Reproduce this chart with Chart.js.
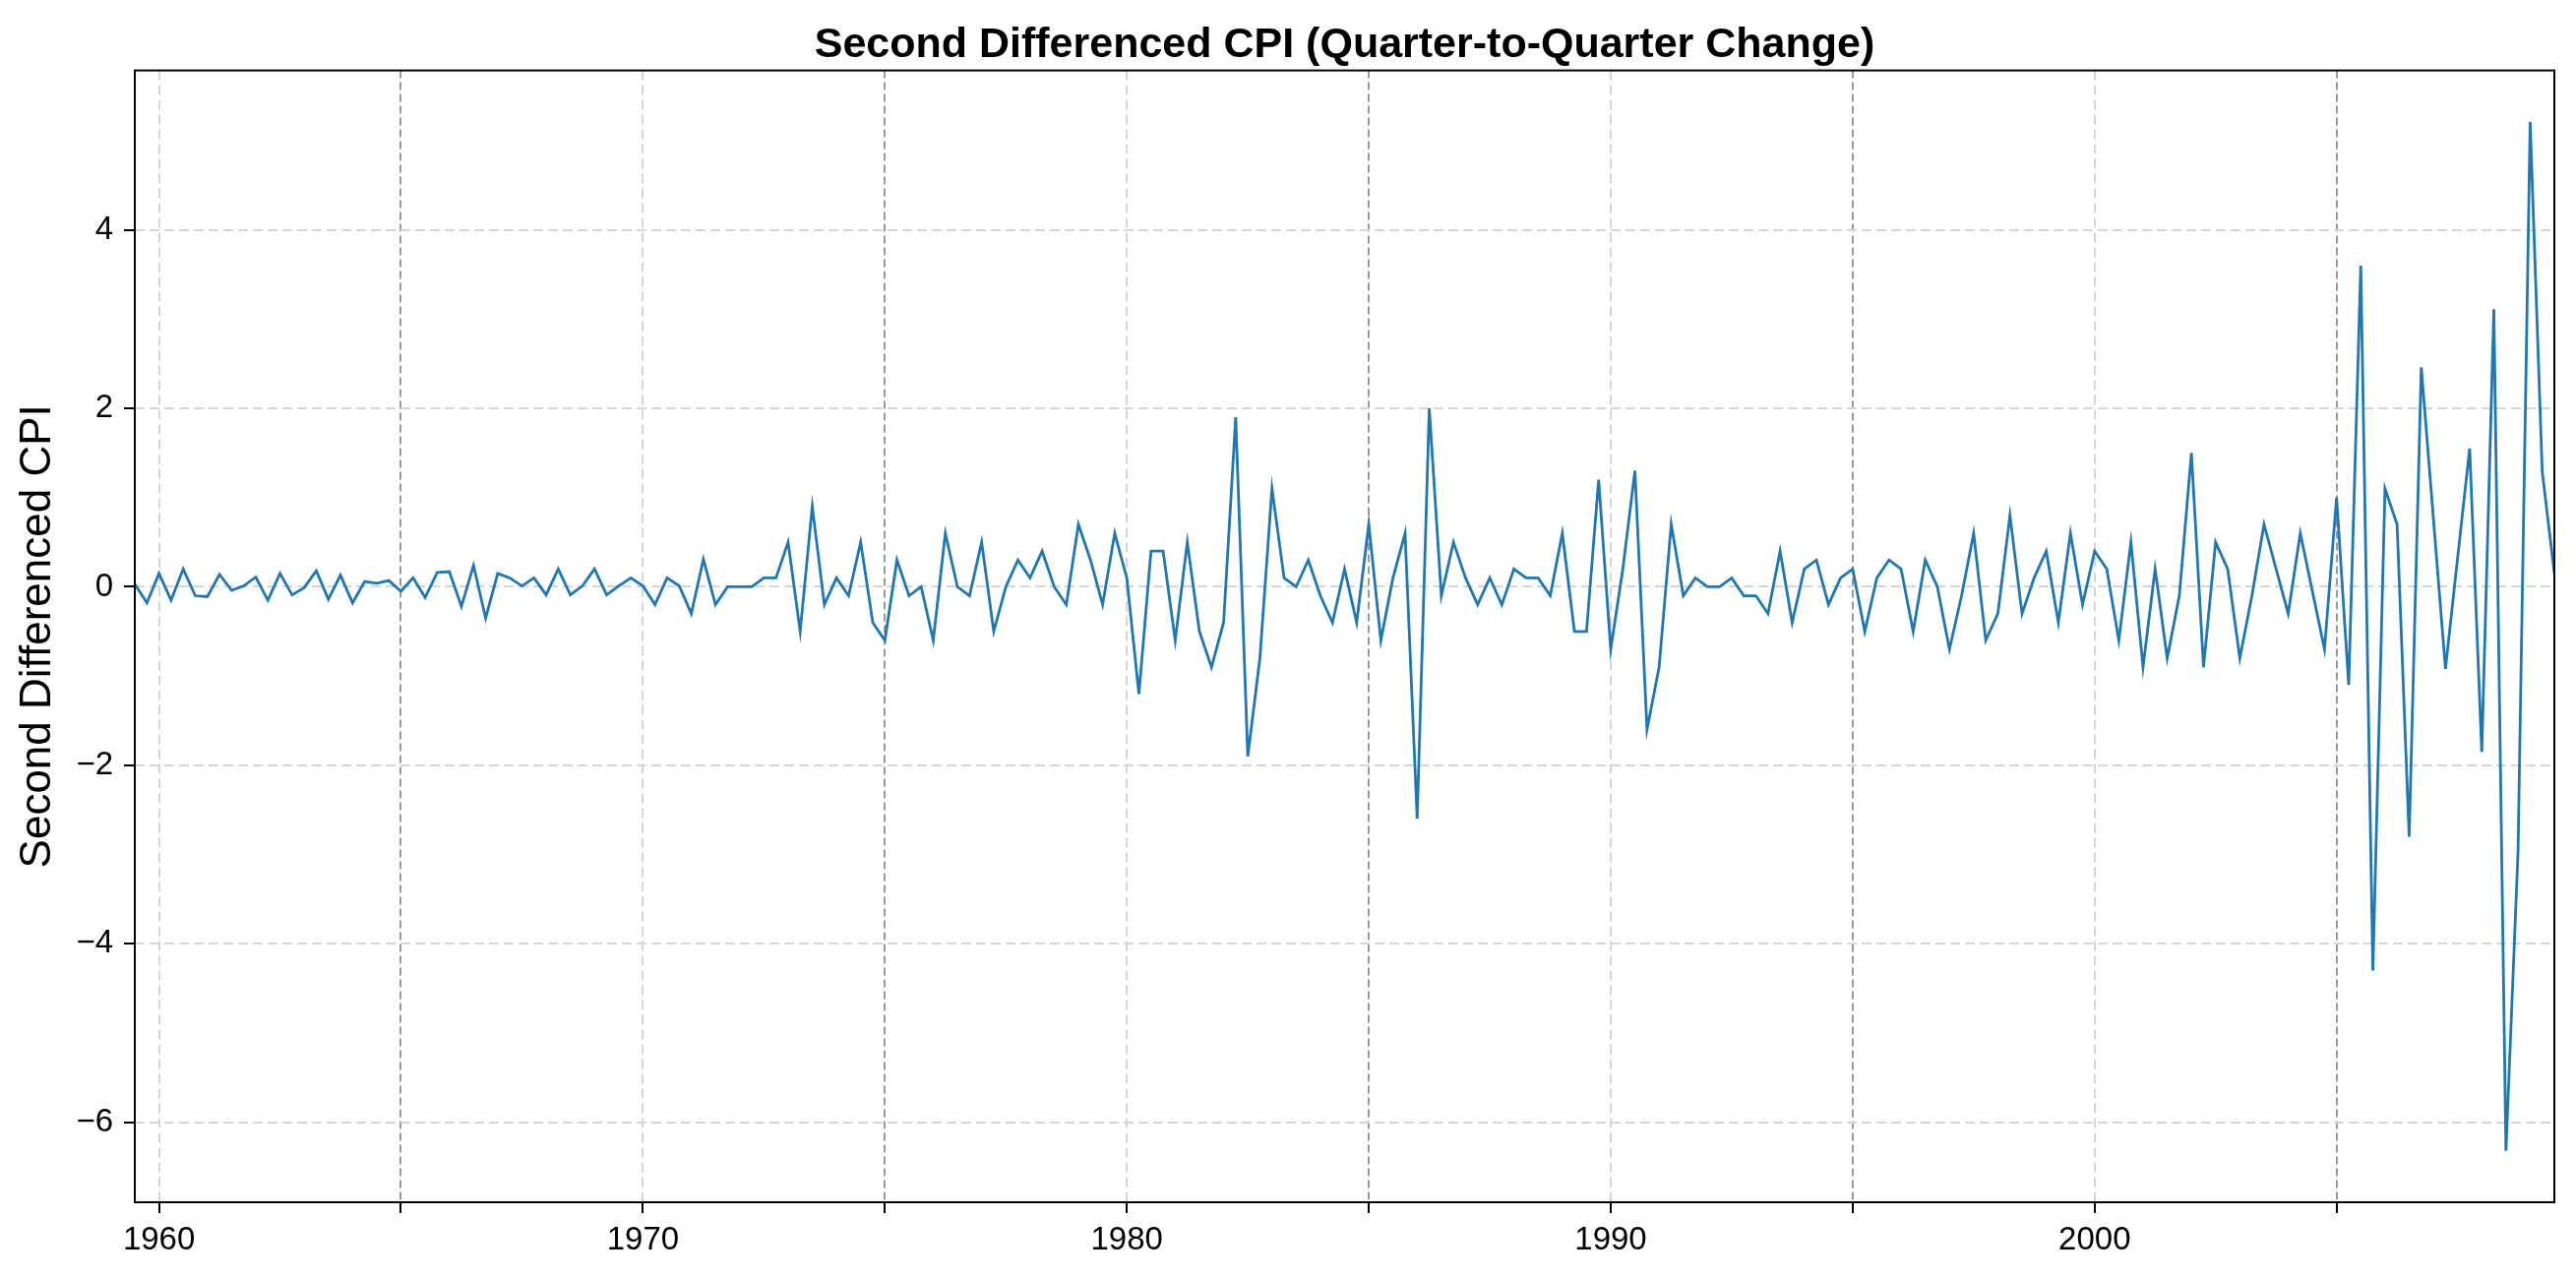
<!DOCTYPE html>
<html>
<head>
<meta charset="utf-8">
<script src="https://cdn.jsdelivr.net/npm/chart.js@4.4.1/dist/chart.umd.min.js"></script>
<style>
html,body{margin:0;padding:0;background:#fff;}
#c{display:block;}
</style>
</head>
<body>
<canvas id="c" width="2618" height="1300"></canvas>
<script>
// ---- data ----
const startYear = 1959;
const startQuarter = 3;
const cpiSecondDiff = [
  0.03, -0.18,                     // 1959 Q3-Q4
  0.15, -0.15, 0.20, -0.10,        // 1960
  -0.11, 0.14, -0.04, 0.01,        // 1961
  0.11, -0.15, 0.15, -0.09,        // 1962
  -0.01, 0.18, -0.14, 0.13,        // 1963
  -0.18, 0.06, 0.04, 0.07,         // 1964
  -0.05, 0.10, -0.12, 0.16,        // 1965
  0.17, -0.22, 0.24, -0.35,        // 1966
  0.15, 0.10, 0.01, 0.10,          // 1967
  -0.09, 0.20, -0.09, 0.01,        // 1968
  0.20, -0.09, 0.01, 0.10,         // 1969
  0.01, -0.20, 0.10, 0.01,         // 1970
  -0.30, 0.31, -0.20, 0.00,        // 1971
  0.00, 0.00, 0.10, 0.10,          // 1972
  0.50, -0.50, 0.90, -0.20,        // 1973
  0.10, -0.10, 0.50, -0.40,        // 1974
  -0.60, 0.30, -0.10, 0.00,        // 1975
  -0.60, 0.60, 0.00, -0.10,        // 1976
  0.50, -0.50, 0.00, 0.30,         // 1977
  0.10, 0.40, 0.00, -0.20,         // 1978
  0.70, 0.30, -0.20, 0.60,         // 1979
  0.10, -1.20, 0.40, 0.40,         // 1980
  -0.60, 0.50, -0.50, -0.90,       // 1981
  -0.40, 1.90, -1.90, -0.80,       // 1982
  1.10, 0.10, 0.00, 0.30,          // 1983
  -0.10, -0.40, 0.20, -0.40,       // 1984
  0.70, -0.60, 0.10, 0.60,         // 1985
  -2.60, 2.00, -0.10, 0.50,        // 1986
  0.10, -0.20, 0.10, -0.20,        // 1987
  0.20, 0.10, 0.10, -0.10,         // 1988
  0.60, -0.50, -0.50, 1.20,        // 1989
  -0.70, 0.20, 1.30, -1.60,        // 1990
  -0.90, 0.70, -0.10, 0.10,        // 1991
  0.00, 0.00, 0.10, -0.10,         // 1992
  -0.10, -0.30, 0.40, -0.40,       // 1993
  0.20, 0.30, -0.20, 0.10,         // 1994
  0.20, -0.50, 0.10, 0.30,         // 1995
  0.20, -0.50, 0.30, 0.00,         // 1996
  -0.70, -0.10, 0.60, -0.60,       // 1997
  -0.30, 0.80, -0.30, 0.10,        // 1998
  0.40, -0.40, 0.60, -0.20,        // 1999
  0.40, 0.20, -0.60, 0.50,         // 2000
  -0.90, 0.20, -0.80, -0.10,       // 2001
  1.50, -0.90, 0.50, 0.20,         // 2002
  -0.80, -0.10, 0.70, 0.20,        // 2003
  -0.30, 0.60, -0.05, -0.70,       // 2004
  1.00, -1.10, 3.60, -4.30,        // 2005
  1.10, 0.70, -2.80, 2.46,         // 2006
  0.77, -0.92, 0.32, 1.55,         // 2007
  -1.85, 3.11, -6.32, -2.96,       // 2008
  5.21, 1.29, 0.15                 // 2009 Q1-Q3
];
const xTickYears = [1960, 1965, 1970, 1975, 1980, 1985, 1990, 1995, 2000, 2005];
const xLabelYears = [1960, 1970, 1980, 1990, 2000];
const yTickValues = [-6, -4, -2, 0, 2, 4];

// ---- derived ----
const quarterX = cpiSecondDiff.map((v, i) => startYear + (startQuarter - 1) / 4 + i / 4);
const points = cpiSecondDiff.map((v, i) => ({x: quarterX[i], y: v}));
const xMin = quarterX[0];
const xMax = quarterX[quarterX.length - 1];
const lo = Math.min(...cpiSecondDiff), hi = Math.max(...cpiSecondDiff);
const pad = 0.05 * (hi - lo);
const yMin = lo - pad, yMax = hi + pad;

const FONT = "'Liberation Sans', Arial, Helvetica, sans-serif";
const LIGHT = '#d6d6d6';
const DARK = '#9a9a9a';

const frame = {
  id: 'frame',
  afterDatasetsDraw(chart) {
    const {ctx, chartArea: a} = chart;
    ctx.save();
    ctx.strokeStyle = '#000';
    ctx.lineWidth = 2;
    ctx.setLineDash([]);
    ctx.strokeRect(a.left, a.top, a.right - a.left, a.bottom - a.top);
    ctx.restore();
  }
};

const isLabelYear = c => c.tick && xLabelYears.includes(c.tick.value);

new Chart(document.getElementById('c'), {
  type: 'line',
  data: {
    datasets: [{
      label: 'Second Differenced CPI',
      data: points,
      borderColor: '#1f77b4',
      borderWidth: 2.8,
      pointRadius: 0,
      tension: 0,
      fill: false
    }]
  },
  plugins: [frame],
  options: {
    responsive: false,
    devicePixelRatio: 1,
    animation: false,
    layout: {padding: {left: 0, right: 22, top: 0, bottom: 0}},
    plugins: {
      legend: {display: false},
      tooltip: {enabled: false},
      title: {
        display: true,
        fullSize: false,
        text: 'Second Differenced CPI (Quarter-to-Quarter Change)',
        color: '#000',
        font: {family: FONT, size: 43, weight: 'bold', lineHeight: 1.2},
        padding: {top: 20, bottom: 0}
      }
    },
    scales: {
      x: {
        type: 'linear',
        min: xMin,
        max: xMax,
        afterFit(s) { s.height = 78; },
        afterBuildTicks(s) { s.ticks = xTickYears.map(v => ({value: v})); },
        ticks: {
          autoSkip: false,
          maxRotation: 0,
          minRotation: 0,
          color: '#000',
          padding: 8,
          font: {family: FONT, size: 33},
          callback: v => xLabelYears.includes(v) ? String(v) : ''
        },
        grid: {
          color: c => isLabelYear(c) ? LIGHT : DARK,
          lineWidth: 2,
          tickLength: 11,
          tickColor: '#000',
          tickWidth: 2
        },
        border: {display: false, dash: c => isLabelYear(c) ? [10, 5] : [8, 4]}
      },
      y: {
        type: 'linear',
        min: yMin,
        max: yMax,
        afterFit(s) { s.width = 137; },
        afterBuildTicks(s) { s.ticks = yTickValues.map(v => ({value: v})); },
        ticks: {
          color: '#000',
          padding: 11,
          font: {family: FONT, size: 33},
          callback: v => v < 0 ? '\u2212' + Math.abs(v) : String(v)
        },
        grid: {
          color: LIGHT,
          lineWidth: 2,
          tickLength: 11,
          tickColor: '#000',
          tickWidth: 2
        },
        border: {display: false, dash: [10, 5]},
        title: {
          display: true,
          text: 'Second Differenced CPI',
          color: '#000',
          font: {family: FONT, size: 44, lineHeight: 1.2},
          padding: {top: 12, bottom: 0}
        }
      }
    }
  }
});
</script>
</body>
</html>
